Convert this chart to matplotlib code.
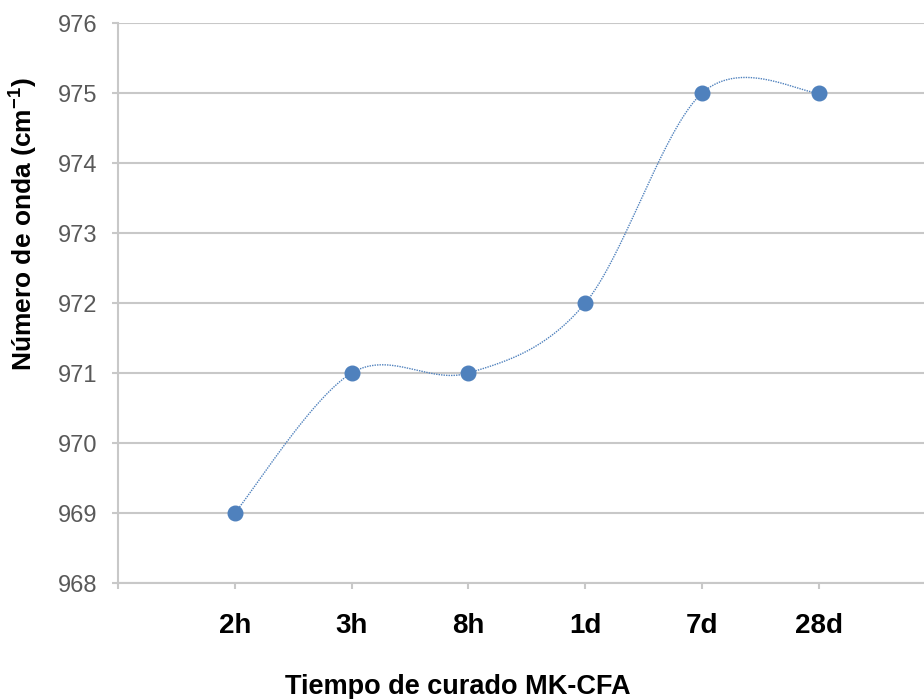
import numpy as np
import matplotlib.pyplot as plt

plt.rcParams['font.family'] = ['Liberation Sans', 'DejaVu Sans']
plt.rcParams['mathtext.fontset'] = 'custom'
plt.rcParams['mathtext.rm'] = 'Liberation Sans'
plt.rcParams['mathtext.bf'] = 'Liberation Sans:bold'

# curing times and measured wavenumber
tiempos = ['2h', '3h', '8h', '1d', '7d', '28d']
numero_onda = [969, 971, 971, 972, 975, 975]
y_ticks = [968, 969, 970, 971, 972, 973, 974, 975, 976]

color = '#4f81bd'
grid_color = '#c8c8c8'


def smooth_curve(x, y, n=60):
    # Catmull-Rom spline through the points (ends duplicated)
    x = np.asarray(x, float)
    y = np.asarray(y, float)
    xp = np.concatenate([[x[0]], x, [x[-1]]])
    yp = np.concatenate([[y[0]], y, [y[-1]]])
    xs, ys = [], []
    t = np.linspace(0, 1, n)
    h00 = 2 * t**3 - 3 * t**2 + 1
    h10 = t**3 - 2 * t**2 + t
    h01 = -2 * t**3 + 3 * t**2
    h11 = t**3 - t**2
    for i in range(1, len(xp) - 2):
        mx0 = (xp[i + 1] - xp[i - 1]) / 2
        mx1 = (xp[i + 2] - xp[i]) / 2
        my0 = (yp[i + 1] - yp[i - 1]) / 2
        my1 = (yp[i + 2] - yp[i]) / 2
        xs.append(h00 * xp[i] + h10 * mx0 + h01 * xp[i + 1] + h11 * mx1)
        ys.append(h00 * yp[i] + h10 * my0 + h01 * yp[i + 1] + h11 * my1)
    return np.concatenate(xs), np.concatenate(ys)


fig = plt.figure(figsize=(9.24, 6.99), dpi=100)
ax = fig.add_axes([118 / 924, 1 - 583 / 699, 1 - 118 / 924, (583 - 23) / 699])

pos = np.arange(1, len(tiempos) + 1)
sx, sy = smooth_curve(pos, numero_onda)
ax.plot(sx, sy, color=color, lw=1.0, linestyle=(0, (1, 0.8)), zorder=3)
ax.plot(pos, numero_onda, 'o', color=color, markersize=10.5, zorder=4)

ax.set_xlim(0, (924 - 118.2) / 116.8)
ax.set_ylim(968, 976)
ax.set_yticks(y_ticks)
ax.set_yticklabels([str(v) for v in y_ticks], color='#595959', fontsize=17)
ax.set_xticks(np.arange(0, len(tiempos) + 1))
ax.set_xticklabels([''] + tiempos, fontsize=20, fontweight='bold')

ax.grid(axis='y', color=grid_color, lw=1.5)
ax.set_axisbelow(True)
for side in ['top', 'right']:
    ax.spines[side].set_visible(False)
for side in ['left', 'bottom']:
    ax.spines[side].set_color(grid_color)
    ax.spines[side].set_linewidth(1.5)
ax.tick_params(axis='y', length=4.3, width=1.5, color=grid_color, pad=10.5)
ax.tick_params(axis='x', length=4.3, width=1.5, color=grid_color, pad=17)

ax.set_xlabel('Tiempo de curado MK-CFA', fontsize=19.5, fontweight='bold')
ax.set_ylabel(r'Número de onda (cm$^{\mathbf{-1}}$)', fontsize=19, fontweight='bold')

# place axis titles in figure coordinates
ax.xaxis.set_label_coords(458 / 924, 1 - 687 / 699, transform=fig.transFigure)
ax.yaxis.set_label_coords(23 / 924, 1 - 224 / 699, transform=fig.transFigure)
ax.xaxis.label.set_va('center')
ax.yaxis.label.set_va('center')

fig.savefig('out.png', dpi=100)
